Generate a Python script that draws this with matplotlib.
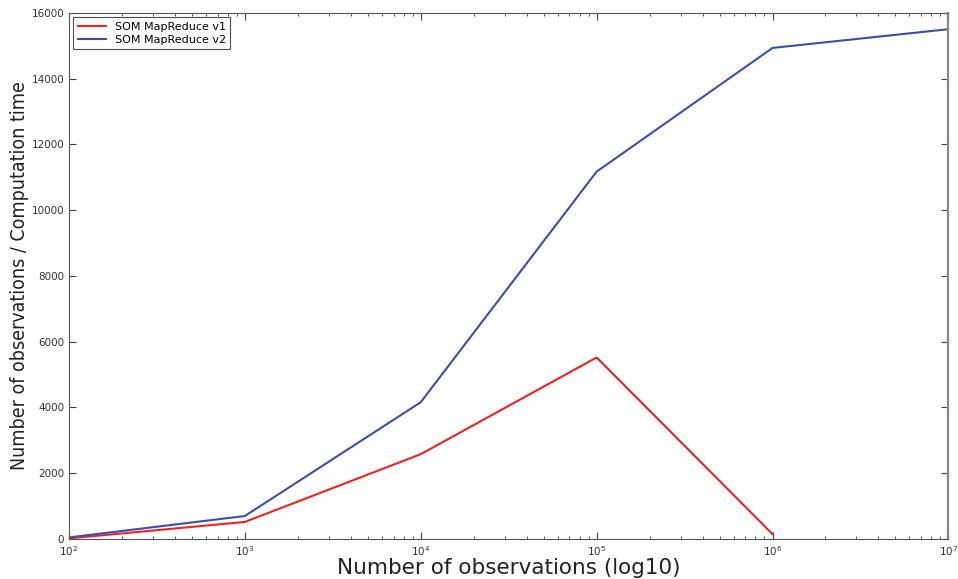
import matplotlib
matplotlib.use("Agg")
import matplotlib.pyplot as plt

# observations per run and throughput for both SOM implementations
n_obs = [1e2, 1e3, 1e4, 1e5, 1e6, 1e7]
v1_obs = n_obs[:5]
v1_rate = [20, 520, 2580, 5520, 150]
v2_rate = [50, 700, 4160, 11170, 14930, 15500]

yticks = list(range(0, 16001, 2000))

fig = plt.figure(figsize=(9.58, 5.79), dpi=100)
ax = fig.add_axes([0.072, 0.069, 0.918, 0.909])

ax.plot(v1_obs, v1_rate, color="#ee2222", lw=1.5, label="SOM MapReduce v1")
ax.plot(n_obs, v2_rate, color="#3a4fa8", lw=1.5, label="SOM MapReduce v2")

ax.set_xscale("log")
ax.set_xlim(1e2, 1e7)
ax.set_ylim(0, 16000)
ax.set_yticks(yticks)

ax.tick_params(which="both", direction="in", top=True, right=True,
               labelsize=7.5, colors="#444444", labelcolor="#333333")
ax.tick_params(which="major", length=5)
ax.tick_params(which="minor", length=2.5)
for sp in ax.spines.values():
    sp.set_edgecolor("#555555")
ax.spines["right"].set_linewidth(1.6)
ax.spines["right"].set_edgecolor("#888888")

ax.set_xlabel("Number of observations (log10)", fontsize=15.5, color="#222222",
              labelpad=0)
ax.set_ylabel("Number of observations / Computation time", fontsize=14,
              fontstretch="condensed", color="#222222", labelpad=2)

leg = ax.legend(loc="upper left", fontsize=8, frameon=True, fancybox=False,
                borderaxespad=0.4, handlelength=2.5, labelspacing=0.3)
leg.get_frame().set_edgecolor("#222222")
leg.get_frame().set_linewidth(0.8)

fig.savefig("out.png", dpi=100)
